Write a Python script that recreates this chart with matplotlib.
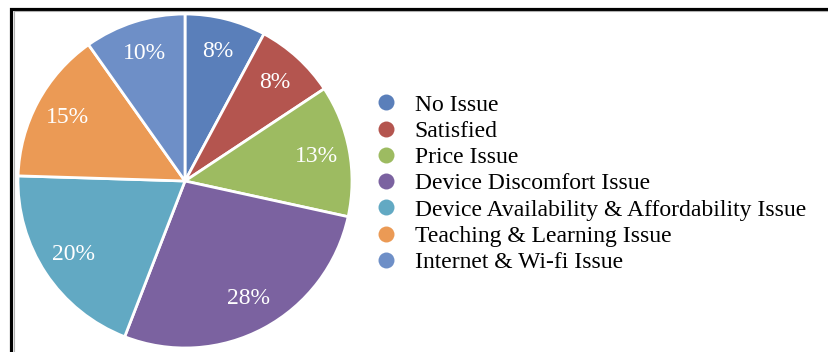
import matplotlib
matplotlib.use("Agg")
import matplotlib.pyplot as plt
from matplotlib.lines import Line2D

plt.rcParams['font.family'] = ['Liberation Serif', 'DejaVu Serif']

categories = [
    "No Issue",
    "Satisfied",
    "Price Issue",
    "Device Discomfort Issue",
    "Device Availability & Affordability Issue",
    "Teaching & Learning Issue",
    "Internet & Wi-fi Issue",
]
values = [8, 8, 13, 28, 20, 15, 10]
colors = ["#5A7FBA", "#B4554F", "#9DBB61", "#7B62A0", "#62A9C3", "#EB9A55", "#6E8FC7"]

W, H = 829, 352
fig = plt.figure(figsize=(W / 100, H / 100), dpi=100)

# pie axes: square box centred on the pie
cx, cy, r = 185, 181, 167
ax = fig.add_axes([(cx - r) / W, 1 - (cy + r) / H, 2 * r / W, 2 * r / H])
total = sum(values)
wedges, _, autotexts = ax.pie(
    values,
    colors=colors,
    startangle=90,
    counterclock=False,
    radius=1.0,
    autopct=lambda p: f"{p * total / 100:.0f}%",
    pctdistance=0.8,
    wedgeprops=dict(edgecolor="white", linewidth=2.0),
    textprops=dict(color="white", fontsize=17),
)
ax.set_xlim(-1.0, 1.0)
ax.set_ylim(-1.0, 1.0)
ax.set_aspect("equal")
ax.axis("off")

handles = [Line2D([0], [0], marker="o", linestyle="none", markersize=11.5,
                  markerfacecolor=c, markeredgecolor="none") for c in colors]
fig.legend(handles, categories, loc="center left",
           bbox_to_anchor=(374.5 / W, 1 - 183.5 / H),
           frameon=False, fontsize=17, handlelength=1.0, handletextpad=0.7,
           labelspacing=0.2, borderpad=0, borderaxespad=0)

# outer frame (top and left edges visible)
fig.add_artist(Line2D([11.5 / W, 11.5 / W, 1.2], [-0.2, 1 - 8.5 / H, 1 - 8.5 / H],
                      transform=fig.transFigure, color="black", linewidth=2.3,
                      solid_joinstyle="miter"))
fig.add_artist(Line2D([14 / W, 14 / W, 1.2], [-0.2, 1 - 11 / H, 1 - 11 / H],
                      transform=fig.transFigure, color="#b0b0b0", linewidth=0.8))

fig.savefig("out.png", dpi=100)
